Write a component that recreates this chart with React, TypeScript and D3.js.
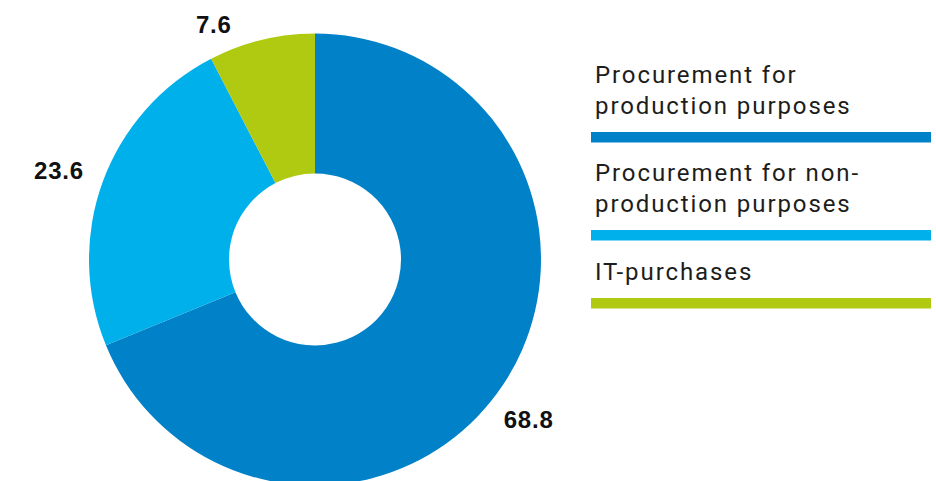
import React from "react";
import * as d3 from "d3";

const categories = [
  "Procurement for production purposes",
  "Procurement for non-production purposes",
  "IT-purchases",
];
const values = [68.8, 23.6, 7.6];
const valueLabels = ["68.8", "23.6", "7.6"];
const legendLines = [
  ["Procurement for", "production purposes"],
  ["Procurement for non-", "production purposes"],
  ["IT-purchases"],
];
const colors = ["#0081C8", "#00B0EA", "#B0C911"];

const W = 936;
const H = 481;
const cx = 315;
const cy = 259.5;
const outerR = 226;
const innerR = 86;
// label placement: radius and angular nudge (degrees)
const labelRadius = [267, 271, 256];
const labelAngleNudge = [3, -1, -9.6];

export default function App() {
  const pie = d3.pie<number>().sort(null).value((d) => d);
  const arcs = pie(values);
  const arcGen = d3.arc<d3.PieArcDatum<number>>().innerRadius(innerR).outerRadius(outerR);

  const legendX = 595;
  const groupTops = [83, 181, 280];
  const lineH = 31;

  return (
    <svg
      width={W}
      height={H}
      style={{ position: "absolute", left: 0, top: 0, background: "#fff" }}
    >
      <g transform={`translate(${cx},${cy})`}>
        {arcs.map((a, i) => (
          <path key={i} d={arcGen(a) || ""} fill={colors[i]} />
        ))}
        {arcs.map((a, i) => {
          const mid = (a.startAngle + a.endAngle) / 2 + (labelAngleNudge[i] * Math.PI) / 180;
          const r = labelRadius[i];
          const x = r * Math.sin(mid);
          const y = -r * Math.cos(mid);
          return (
            <text
              key={i}
              x={x}
              y={y}
              dy="0.35em"
              textAnchor="middle"
              fontFamily="'Liberation Sans', Arial, sans-serif"
              fontWeight="bold"
              fontSize={24}
              letterSpacing={0.8}
              fill="#111"
            >
              {valueLabels[i]}
            </text>
          );
        })}
      </g>
      {categories.map((c, i) => {
        const lines = legendLines[i];
        const top = groupTops[i];
        const lastBaseline = top + (lines.length - 1) * lineH;
        return (
          <g key={c}>
            {lines.map((ln, j) => (
              <text
                key={j}
                x={legendX}
                y={top + j * lineH}
                fontFamily="Roboto, 'Noto Sans', sans-serif"
                fontSize={24}
                letterSpacing={1.9}
                fill="#1d1d1b"
              >
                {ln}
              </text>
            ))}
            <rect x={591} y={lastBaseline + 18} width={340} height={10.5} fill={colors[i]} />
          </g>
        );
      })}
    </svg>
  );
}
